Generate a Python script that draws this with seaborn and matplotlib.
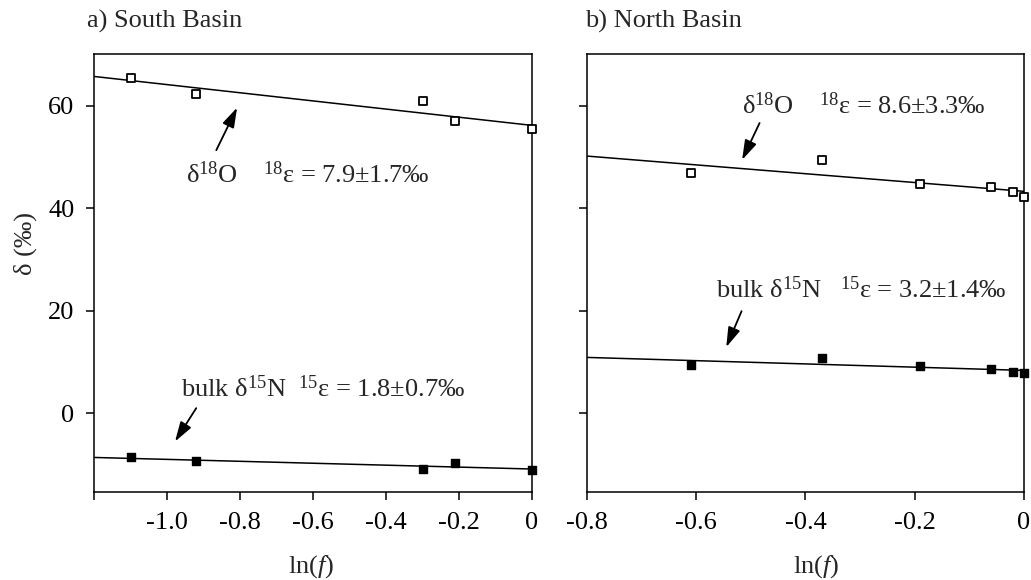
import numpy as np
import pandas as pd
import matplotlib
matplotlib.use("Agg")
import matplotlib.pyplot as plt
import seaborn as sns

# values
ln_f_south = [-1.10, -0.92, -0.30, -0.21, 0.0]
d18o_south = [65.4, 62.3, 60.8, 56.9, 55.4]
d15n_south = [-8.6, -9.4, -10.8, -9.7, -11.1]

ln_f_north = [-0.61, -0.37, -0.19, -0.06, -0.02, 0.0]
d18o_north = [46.8, 49.3, 44.8, 44.2, 43.1, 42.2]
d15n_north = [9.5, 10.7, 9.2, 8.7, 8.1, 7.9]

titles = ["a) South Basin", "b) North Basin"]
o_labels = ["δ$^{18}$O    $^{18}$ε = 7.9±1.7‰", "δ$^{18}$O    $^{18}$ε = 8.6±3.3‰"]
n_labels = ["bulk δ$^{15}$N  $^{15}$ε = 1.8±0.7‰", "bulk δ$^{15}$N   $^{15}$ε = 3.2±1.4‰"]

xticks_south = [-1.2, -1.0, -0.8, -0.6, -0.4, -0.2, 0.0]
xlabels_south = ["", "-1.0", "-0.8", "-0.6", "-0.4", "-0.2", "0"]
xticks_north = [-0.8, -0.6, -0.4, -0.2, 0.0]
xlabels_north = ["-0.8", "-0.6", "-0.4", "-0.2", "0"]
yticks = [0, 20, 40, 60]

sns.set_style("ticks")
plt.rcParams["font.family"] = ["Liberation Serif", "DejaVu Serif"]
plt.rcParams["mathtext.fontset"] = "custom"
plt.rcParams["mathtext.rm"] = "Liberation Serif"
plt.rcParams["mathtext.it"] = "Liberation Serif:italic"
plt.rcParams["axes.unicode_minus"] = False
plt.rcParams["font.size"] = 19
plt.rcParams["axes.linewidth"] = 1.1
plt.rcParams["xtick.major.width"] = 1.1
plt.rcParams["ytick.major.width"] = 1.1
plt.rcParams["xtick.major.size"] = 6
plt.rcParams["ytick.major.size"] = 6
plt.rcParams["xtick.color"] = "black"
plt.rcParams["ytick.color"] = "black"
plt.rcParams["axes.edgecolor"] = "black"

south = pd.DataFrame({"lnf": ln_f_south, "d18O": d18o_south, "d15N": d15n_south})
north = pd.DataFrame({"lnf": ln_f_north, "d18O": d18o_north, "d15N": d15n_north})

fig = plt.figure(figsize=(10.31, 5.80), dpi=100)
ax1 = fig.add_axes([0.0912, 0.1513, 0.4248, 0.7551])
ax2 = fig.add_axes([0.5693, 0.1513, 0.4239, 0.7551])

panels = [
    (ax1, south, (-1.2, 0.0), xticks_south, xlabels_south),
    (ax2, north, (-0.8, 0.0), xticks_north, xlabels_north),
]

ylim = (-15.4, 70)

for i, (ax, df, xlim, xt, xl) in enumerate(panels):
    ax.set_xlim(*xlim)
    ax.set_ylim(*ylim)
    # fitted lines over the full x range
    for col in ["d18O", "d15N"]:
        sns.regplot(data=df, x="lnf", y=col, ax=ax, scatter=False, ci=None,
                    truncate=False, color="black", line_kws={"lw": 1.1})
    sns.scatterplot(data=df, x="lnf", y="d18O", ax=ax, marker="s", s=34,
                    facecolor="white", edgecolor="black", linewidth=1.3,
                    zorder=3, clip_on=False)
    sns.scatterplot(data=df, x="lnf", y="d15N", ax=ax, marker="s", s=34,
                    color="black", edgecolor="black", linewidth=1.0,
                    zorder=3, clip_on=False)
    ax.set_xlim(*xlim)
    ax.set_ylim(*ylim)
    ax.set_xticks(xt)
    ax.set_xticklabels(xl)
    ax.set_yticks(yticks)
    ax.tick_params(labelsize=19, pad=8)
    ax.set_xlabel("ln($f$)", fontsize=19)
    ax.set_ylabel("")
    ax.text(-0.016 if i == 0 else -0.005, 1.060, titles[i], transform=ax.transAxes,
            fontsize=19, ha="left", va="baseline")

ax1.set_ylabel("δ (‰)", fontsize=19)
ax1.yaxis.set_label_coords(-0.13, 0.569)
ax1.xaxis.set_label_coords(0.496, -0.14)
ax2.xaxis.set_label_coords(0.524, -0.14)
ax2.set_yticklabels([])

arrow = dict(arrowstyle="-|>,head_length=0.8,head_width=0.25", color="black",
             lw=1.3, mutation_scale=15, shrinkA=0, shrinkB=0)

# South basin labels
ax1.text(-0.948, 45.0, o_labels[0], fontsize=19, va="baseline")
ax1.annotate("", xy=(-0.808, 59.6), xytext=(-0.865, 51.3), arrowprops=arrow)
ax1.text(-0.962, 3.1, n_labels[0], fontsize=19, va="baseline")
ax1.annotate("", xy=(-0.978, -5.5), xytext=(-0.920, 1.0), arrowprops=arrow)

# North basin labels
ax2.text(-0.516, 58.3, o_labels[1], fontsize=19, va="baseline")
ax2.annotate("", xy=(-0.516, 49.4), xytext=(-0.484, 56.6), arrowprops=arrow)
ax2.text(-0.563, 22.4, n_labels[1], fontsize=19, va="baseline")
ax2.annotate("", xy=(-0.545, 12.9), xytext=(-0.517, 19.9), arrowprops=arrow)

fig.savefig("out.png", dpi=100)
